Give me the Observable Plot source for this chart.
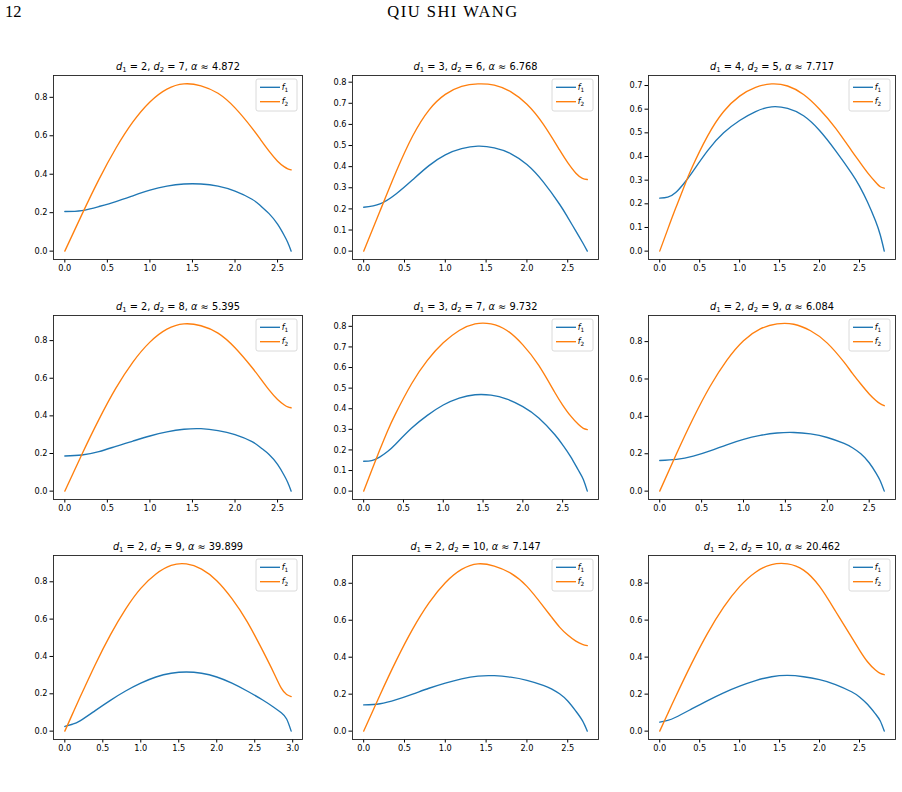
<!DOCTYPE html>
<html><head><meta charset="utf-8">
<script src="https://cdn.jsdelivr.net/npm/d3@7"></script>
<script src="https://cdn.jsdelivr.net/npm/@observablehq/plot@0.6"></script>
<style>
body{margin:0;background:#fff;}
#page{position:relative;width:902px;height:792px;overflow:hidden;background:#fff;}
.hdr{position:absolute;font-family:"Liberation Serif",serif;font-size:16.5px;color:#000;line-height:20px;}
</style></head><body><div id="page">
<div class="hdr" style="left:5px;top:2px;">12</div>
<div class="hdr" style="left:0;width:906px;text-align:center;top:2px;letter-spacing:1.5px">QIU SHI WANG</div>
</div>
<script>
// Panel parameters (titles)
const d1 = [2, 3, 4, 2, 3, 2, 2, 2, 2];
const d2 = [7, 6, 5, 8, 7, 9, 9, 10, 10];
const alpha = ["4.872", "6.768", "7.717", "5.395", "9.732", "6.084", "39.899", "7.147", "20.462"];
const seriesLabels = ["1", "2"];

// Tick values
const xTicksTo25 = [0, 0.5, 1, 1.5, 2, 2.5];
const xTicksTo30 = [0, 0.5, 1, 1.5, 2, 2.5, 3];
const yTicksStep2 = [0, 0.2, 0.4, 0.6, 0.8];
const yTicksStep1to8 = [0, 0.1, 0.2, 0.3, 0.4, 0.5, 0.6, 0.7, 0.8];
const yTicksStep1to7 = [0, 0.1, 0.2, 0.3, 0.4, 0.5, 0.6, 0.7];

// d1=2, d2=7
const p1x  = [0, 0.2, 0.4, 0.6, 0.8, 1.0, 1.2, 1.4, 1.6, 1.8, 2.0, 2.2, 2.3, 2.4, 2.5, 2.58, 2.62, 2.66];
const p1f1 = [0.206, 0.211, 0.232, 0.258, 0.288, 0.317, 0.338, 0.349, 0.349, 0.338, 0.312, 0.27, 0.236, 0.195, 0.14, 0.08, 0.045, 0];
const p1f2 = [0, 0.19, 0.372, 0.535, 0.672, 0.776, 0.843, 0.87, 0.86, 0.821, 0.745, 0.64, 0.58, 0.52, 0.468, 0.438, 0.428, 0.4225];
// d1=3, d2=6
const p2x  = [0, 0.2, 0.4, 0.6, 0.8, 1.0, 1.2, 1.4, 1.6, 1.8, 2.0, 2.2, 2.4, 2.5, 2.6, 2.68, 2.74];
const p2f1 = [0.208, 0.224, 0.272, 0.338, 0.405, 0.456, 0.485, 0.497, 0.489, 0.462, 0.41, 0.328, 0.222, 0.16, 0.095, 0.042, 0];
const p2f2 = [0, 0.19, 0.378, 0.545, 0.668, 0.742, 0.78, 0.792, 0.786, 0.755, 0.695, 0.601, 0.479, 0.419, 0.369, 0.345, 0.339];
// d1=4, d2=5
const p3x  = [0, 0.1, 0.2, 0.3, 0.4, 0.6, 0.8, 1.0, 1.2, 1.4, 1.6, 1.8, 2.0, 2.2, 2.4, 2.5, 2.6, 2.7, 2.76, 2.81];
const p3f1 = [0.224, 0.228, 0.248, 0.285, 0.33, 0.425, 0.5, 0.552, 0.59, 0.61, 0.603, 0.572, 0.51, 0.425, 0.33, 0.275, 0.208, 0.128, 0.068, 0];
const p3f2 = [0, 0.092, 0.182, 0.268, 0.35, 0.487, 0.59, 0.655, 0.692, 0.707, 0.698, 0.662, 0.6, 0.52, 0.425, 0.378, 0.332, 0.292, 0.272, 0.266];
// d1=2, d2=8
const p4x  = [0, 0.2, 0.4, 0.6, 0.8, 1.0, 1.2, 1.4, 1.6, 1.8, 2.0, 2.2, 2.3, 2.4, 2.5, 2.58, 2.62, 2.66];
const p4f1 = [0.187, 0.192, 0.21, 0.238, 0.266, 0.293, 0.315, 0.329, 0.332, 0.322, 0.3, 0.263, 0.232, 0.195, 0.142, 0.082, 0.046, 0];
const p4f2 = [0, 0.195, 0.38, 0.547, 0.686, 0.792, 0.861, 0.889, 0.879, 0.84, 0.762, 0.657, 0.598, 0.538, 0.487, 0.458, 0.448, 0.443];
// d1=3, d2=7
const p5x  = [0, 0.1, 0.2, 0.3, 0.4, 0.6, 0.8, 1.0, 1.2, 1.4, 1.6, 1.8, 2.0, 2.2, 2.4, 2.5, 2.6, 2.7, 2.76, 2.81];
const p5f1 = [0.145, 0.148, 0.165, 0.192, 0.228, 0.305, 0.368, 0.418, 0.452, 0.468, 0.466, 0.447, 0.41, 0.355, 0.275, 0.225, 0.168, 0.1, 0.057, 0];
const p5f2 = [0, 0.1, 0.198, 0.292, 0.375, 0.52, 0.635, 0.72, 0.78, 0.812, 0.812, 0.78, 0.71, 0.61, 0.48, 0.418, 0.365, 0.323, 0.305, 0.299];
// d1=2, d2=9
const p6x  = [0, 0.2, 0.4, 0.6, 0.8, 1.0, 1.2, 1.4, 1.6, 1.8, 2.0, 2.2, 2.3, 2.4, 2.5, 2.58, 2.63, 2.68];
const p6f1 = [0.164, 0.17, 0.187, 0.215, 0.248, 0.277, 0.298, 0.311, 0.314, 0.306, 0.287, 0.255, 0.232, 0.2, 0.152, 0.098, 0.057, 0];
const p6f2 = [0, 0.2, 0.39, 0.56, 0.7, 0.805, 0.868, 0.895, 0.893, 0.858, 0.792, 0.69, 0.63, 0.573, 0.52, 0.485, 0.468, 0.457];
// d1=2, d2=9 (second root)
const p7x  = [0, 0.1, 0.2, 0.4, 0.6, 0.8, 1.0, 1.2, 1.4, 1.6, 1.8, 2.0, 2.2, 2.4, 2.6, 2.75, 2.85, 2.92, 2.98];
const p7f1 = [0.025, 0.037, 0.055, 0.11, 0.165, 0.215, 0.257, 0.29, 0.31, 0.317, 0.31, 0.29, 0.257, 0.215, 0.168, 0.128, 0.098, 0.065, 0];
const p7f2 = [0, 0.091, 0.181, 0.356, 0.516, 0.654, 0.765, 0.842, 0.888, 0.896, 0.868, 0.806, 0.71, 0.587, 0.435, 0.313, 0.23, 0.196, 0.185];
// d1=2, d2=10
const p8x  = [0, 0.2, 0.4, 0.6, 0.8, 1.0, 1.2, 1.4, 1.6, 1.8, 2.0, 2.2, 2.3, 2.4, 2.5, 2.6, 2.68, 2.74];
const p8f1 = [0.142, 0.148, 0.17, 0.2, 0.232, 0.26, 0.283, 0.298, 0.3, 0.292, 0.275, 0.248, 0.229, 0.202, 0.163, 0.108, 0.057, 0];
const p8f2 = [0, 0.196, 0.383, 0.552, 0.694, 0.803, 0.875, 0.905, 0.893, 0.855, 0.783, 0.675, 0.618, 0.563, 0.52, 0.487, 0.47, 0.463];
// d1=2, d2=10 (second root)
const p9x  = [0, 0.1, 0.2, 0.4, 0.6, 0.8, 1.0, 1.2, 1.4, 1.6, 1.8, 2.0, 2.2, 2.4, 2.5, 2.6, 2.7, 2.76, 2.81];
const p9f1 = [0.049, 0.058, 0.075, 0.12, 0.165, 0.207, 0.243, 0.273, 0.294, 0.301, 0.294, 0.278, 0.252, 0.213, 0.185, 0.145, 0.093, 0.055, 0];
const p9f2 = [0, 0.094, 0.187, 0.366, 0.53, 0.67, 0.781, 0.859, 0.9, 0.904, 0.87, 0.782, 0.648, 0.508, 0.438, 0.375, 0.33, 0.312, 0.305];

const X  = [p1x, p2x, p3x, p4x, p5x, p6x, p7x, p8x, p9x];
const F1 = [p1f1, p2f1, p3f1, p4f1, p5f1, p6f1, p7f1, p8f1, p9f1];
const F2 = [p1f2, p2f2, p3f2, p4f2, p5f2, p6f2, p7f2, p8f2, p9f2];
const XT = [xTicksTo25, xTicksTo25, xTicksTo25, xTicksTo25, xTicksTo25, xTicksTo25, xTicksTo30, xTicksTo25, xTicksTo25];
const YT = [yTicksStep2, yTicksStep1to8, yTicksStep1to7, yTicksStep2, yTicksStep1to8, yTicksStep2, yTicksStep2, yTicksStep2, yTicksStep2];

// Grid geometry
const frameLeft = [53, 352, 648];
const frameWidth = [249, 246, 247];
const frameTop = [75, 315, 555];
const frameHeight = 184;
const blue = "#1f77b4", orange = "#ff7f0e";
const fmt = d3.format(".1f");

function addSpans(textSel, parts) {
  textSel.text(null);
  for (const [s, o] of parts) {
    const ts = textSel.append("tspan").text(s);
    for (const k in (o || {})) ts.attr(k, o[k]);
  }
}

const page = document.getElementById("page");

for (let i = 0; i < 9; i++) {
  const col = i % 3, row = Math.floor(i / 3);
  const xs = X[i], a = F1[i], b = F2[i];
  const end = xs[xs.length - 1];
  const top = Math.max(d3.max(a), d3.max(b));
  const rows = xs.map((x, k) => ({x, f1: a[k], f2: b[k]}));
  const fw = frameWidth[col];
  const mL = 40, mR = 8, mT = 24, mB = 22;
  const title = `d${d1[i]}d${d2[i]}a${alpha[i]}`;

  const svg = Plot.plot({
    width: mL + fw + mR, height: mT + frameHeight + mB,
    marginLeft: mL, marginRight: mR, marginTop: mT, marginBottom: mB,
    style: {fontFamily: "DejaVu Sans", fontSize: "8.2px", color: "#000", background: "transparent", overflow: "visible"},
    x: {domain: [-0.05 * end, 1.05 * end]},
    y: {domain: [-0.05 * top, 1.05 * top]},
    marks: [
      Plot.axisX({ticks: XT[i], tickFormat: fmt, tickSize: 3.5, tickPadding: 2.5, fontSize: 8.2, label: null}),
      Plot.axisY({ticks: YT[i], tickFormat: fmt, tickSize: 3.5, tickPadding: 2.5, fontSize: 8.2, label: null}),
      Plot.lineY(rows, {x: "x", y: "f1", stroke: blue, strokeWidth: 1.35, curve: "natural"}),
      Plot.lineY(rows, {x: "x", y: "f2", stroke: orange, strokeWidth: 1.35, curve: "natural"}),
      Plot.frame({stroke: "#222", strokeWidth: 0.9}),
      Plot.text([title], {text: d => d, frameAnchor: "top", dy: -6, lineAnchor: "bottom", fontSize: 9.8})
    ]
  });
  svg.style.position = "absolute";
  svg.style.left = (frameLeft[col] - mL) + "px";
  svg.style.top = (frameTop[row] - mT) + "px";

  // Title with italic symbols and subscripts
  d3.select(svg).selectAll("text").filter(function() { return this.textContent === title; })
    .each(function() {
      const sub = {"font-size": "6.9px", dy: "2px"}, back = {dy: "-2px"}, it = {"font-style": "italic"};
      addSpans(d3.select(this), [
        ["d", it], ["1", sub], [` = ${d1[i]}, `, back],
        ["d", it], ["2", sub], [` = ${d2[i]}, `, back],
        ["α", it], [` ≈ ${alpha[i]}`, {}]
      ]);
    });

  // Legend box in the upper-right corner of the frame
  const g = d3.select(svg).append("g");
  const bw = 41, bh = 32;
  const bx = mL + fw - 5 - bw, by = mT + 4;
  g.append("rect").attr("x", bx).attr("y", by).attr("width", bw).attr("height", bh).attr("rx", 2)
    .attr("fill", "#fff").attr("fill-opacity", 0.8).attr("stroke", "#d0d0d0").attr("stroke-width", 0.8);
  [blue, orange].forEach((c, k) => {
    const yy = by + 8.3 + k * 14.4;
    g.append("line").attr("x1", bx + 4).attr("x2", bx + 24).attr("y1", yy).attr("y2", yy)
      .attr("stroke", c).attr("stroke-width", 1.35);
    const t = g.append("text").attr("x", bx + 29).attr("y", yy).attr("dy", "0.32em")
      .attr("font-size", 8.2).attr("font-family", "DejaVu Sans").attr("fill", "#000");
    addSpans(t, [["f", {"font-style": "italic"}], [seriesLabels[k], {"font-size": "5.8px", dy: "1.8px"}]]);
  });

  page.appendChild(svg);
}
</script>
</body></html>
